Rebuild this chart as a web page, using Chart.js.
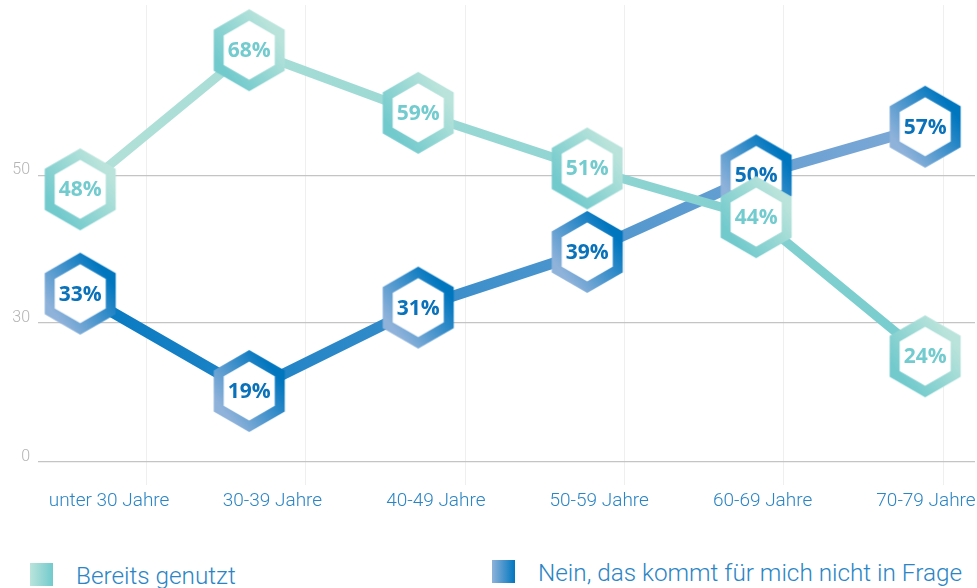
<!DOCTYPE html>
<html lang="de">
<head>
<meta charset="utf-8">
<title>Nutzung nach Altersgruppen</title>
<script src="https://cdn.jsdelivr.net/npm/chart.js@4.4.1/dist/chart.umd.min.js"></script>
<style>
  html, body { margin: 0; padding: 0; background: #ffffff; }
  body {
    position: relative;
    width: 977px;
    height: 588px;
    overflow: hidden;
    font-family: Roboto, 'Open Sans', sans-serif;
  }
  #chart-wrap { position: absolute; left: 0; top: 0; width: 977px; height: 520px; }

  /* legend sits under the chart, partly cut off like in the original */
  .legend-item { position: absolute; }
  .legend-item:nth-child(1) { left: 30px; top: 563px; }
  .legend-item:nth-child(2) { left: 492px; top: 560px; }
  .legend-swatch { position: absolute; left: 0; top: 0; width: 23px; height: 23px; }
  .legend-text {
    position: absolute;
    left: 46px;
    top: 1px;
    white-space: nowrap;
    font-size: 24.3px;
    line-height: 24.3px;
    font-weight: 300;
    color: #2b85c5;
  }
</style>
</head>
<body>
<div id="chart-wrap"><canvas id="ageChart"></canvas></div>
<div id="legend"></div>

<script>
/* ── DATA ─────────────────────────────────────────────────── */
const ageGroups = ['unter 30 Jahre', '30-39 Jahre', '40-49 Jahre', '50-59 Jahre', '60-69 Jahre', '70-79 Jahre'];
const usedAlready = [48, 68, 59, 51, 44, 24];
const notAnOption = [33, 19, 31, 39, 50, 57];
const seriesLabels = ['Bereits genutzt', 'Nein, das kommt für mich nicht in Frage'];
const yTickLabels = ['0', '30', '50'];

/* ── LAYOUT / STYLE ───────────────────────────────────────── */
// the picture's gridlines do not sit on a straight 0-50 scale,
// so they are placed where the picture has them (in data units)
const yGridAt = [8.8, 28.8, 50];
const yRange = { min: 8.8, max: 74.5 };
const xDataRange = { min: -0.25, max: 5.295 };   // marker centres
const xLabelRange = { min: -0.435, max: 5.3 };   // category labels
const xGridRange = { min: -0.68, max: 5.2 };     // faint vertical lines

const TEAL = { line: ['#b6e2d9', '#74cbcd'], hex: ['#72cacd', '#bae4db'], text: '#72cbce' };
const BLUE = { line: ['#0077c0', '#86acd8'], hex: ['#8eb2da', '#0076bf'], text: '#0a72ba' };

/* ── HELPERS ──────────────────────────────────────────────── */
function lineGradient(colors) {
  return ctx => {
    const chart = ctx.chart;
    const area = chart.chartArea;
    if (!area) return colors[0];
    const g = chart.ctx.createLinearGradient(area.left, 0, area.right, 0);
    g.addColorStop(0, colors[0]);
    g.addColorStop(1, colors[1]);
    return g;
  };
}

// pointy-top hexagon ring with white centre, used as point style
function hexMarker(colors) {
  const outerR = 41, innerR = 29.5;
  const cv = document.createElement('canvas');
  cv.width = 74;
  cv.height = 84;
  const c = cv.getContext('2d');
  const cx = cv.width / 2, cy = cv.height / 2;

  const hexPath = r => {
    c.beginPath();
    for (let k = 0; k < 6; k++) {
      const a = (-90 + 60 * k) * Math.PI / 180;
      const px = cx + r * Math.cos(a), py = cy + r * Math.sin(a);
      if (k === 0) c.moveTo(px, py); else c.lineTo(px, py);
    }
    c.closePath();
  };

  const g = c.createLinearGradient(cx - 32, cy + 24, cx + 32, cy - 24);
  g.addColorStop(0.1, colors[0]);
  g.addColorStop(0.9, colors[1]);
  hexPath(outerR);
  c.fillStyle = g;
  c.fill();
  hexPath(innerR);
  c.fillStyle = '#ffffff';
  c.fill();
  return cv;
}

function fixedTicks(values) {
  return axis => { axis.ticks = values.map(v => ({ value: v })); };
}

/* value labels inside the hexagons, drawn right after each dataset */
const hexLabels = {
  id: 'hexLabels',
  afterDatasetDraw(chart, args) {
    const ds = chart.data.datasets[args.index];
    const c = chart.ctx;
    c.save();
    c.font = '700 21px "Open Sans"';
    c.fillStyle = ds.valueColor;
    c.textAlign = 'center';
    c.textBaseline = 'middle';
    args.meta.data.forEach((pt, i) => {
      c.fillText(ds.data[i].y + '%', pt.x, pt.y + 1);
    });
    c.restore();
  }
};

/* ── CHART ────────────────────────────────────────────────── */
const toPoints = values => values.map((v, i) => ({ x: i, y: v }));

const chart = new Chart(document.getElementById('ageChart'), {
  type: 'line',
  data: {
    datasets: [
      {
        label: seriesLabels[0],
        data: toPoints(usedAlready),
        borderColor: lineGradient(TEAL.line),
        borderWidth: 9,
        pointStyle: hexMarker(TEAL.hex),
        pointRadius: 20,
        pointHoverRadius: 20,
        valueColor: TEAL.text,
        swatch: [TEAL.hex[1], TEAL.hex[0]],
        tension: 0,
        clip: false
      },
      {
        label: seriesLabels[1],
        data: toPoints(notAnOption),
        borderColor: lineGradient(BLUE.line),
        borderWidth: 11,
        pointStyle: hexMarker(BLUE.hex),
        pointRadius: 20,
        pointHoverRadius: 20,
        valueColor: BLUE.text,
        swatch: [BLUE.hex[0], BLUE.hex[1]],
        tension: 0,
        clip: false
      }
    ]
  },
  options: {
    responsive: true,
    maintainAspectRatio: false,
    animation: false,
    events: [],
    layout: { autoPadding: false, padding: { top: 5, right: 2, bottom: 5, left: 0 } },
    plugins: {
      legend: { display: false },
      tooltip: { enabled: false }
    },
    scales: {
      x: {
        type: 'linear',
        min: xDataRange.min, max: xDataRange.max,
        display: false
      },
      xg: {
        type: 'linear',
        position: 'bottom',
        min: xGridRange.min, max: xGridRange.max,
        afterBuildTicks: fixedTicks(ageGroups.map((_, i) => i)),
        afterFit: axis => { axis.height = 23; axis.paddingLeft = 0; axis.paddingRight = 0; },
        border: { display: false },
        grid: { color: '#efefef', lineWidth: 1, drawTicks: true, tickLength: 23, tickColor: '#efefef' },
        ticks: { display: false }
      },
      xl: {
        type: 'linear',
        position: 'bottom',
        min: xLabelRange.min, max: xLabelRange.max,
        afterBuildTicks: fixedTicks(ageGroups.map((_, i) => i)),
        afterFit: axis => { axis.height = 30; axis.paddingLeft = 0; axis.paddingRight = 0; },
        border: { display: false },
        grid: { display: false, drawTicks: false },
        ticks: {
          autoSkip: false,
          maxRotation: 0,
          padding: 5,
          color: '#2b85c5',
          font: { family: 'Roboto', size: 19, weight: '300' },
          callback: (val, i) => ageGroups[i]
        }
      },
      y: {
        min: yRange.min, max: yRange.max,
        afterBuildTicks: fixedTicks(yGridAt),
        afterFit: axis => { axis.width = 38; axis.paddingTop = 0; axis.paddingBottom = 0; },
        border: { display: false },
        grid: { color: '#c4c4c4', lineWidth: 1.3, drawTicks: false },
        ticks: {
          padding: 8,
          labelOffset: -5,
          color: '#b4b4b4',
          font: { family: 'Roboto', size: 16, weight: '300' },
          callback: (val, i) => yTickLabels[i]
        }
      }
    }
  },
  plugins: [hexLabels]
});

/* ── HTML LEGEND (built from the chart's datasets) ───────── */
const legendEl = document.getElementById('legend');
chart.data.datasets.forEach(ds => {
  const item = document.createElement('div');
  item.className = 'legend-item';
  const sw = document.createElement('div');
  sw.className = 'legend-swatch';
  sw.style.background = `linear-gradient(90deg, ${ds.swatch[0]}, ${ds.swatch[1]})`;
  const tx = document.createElement('div');
  tx.className = 'legend-text';
  tx.textContent = ds.label;
  item.appendChild(sw);
  item.appendChild(tx);
  legendEl.appendChild(item);
});
</script>
</body>
</html>
